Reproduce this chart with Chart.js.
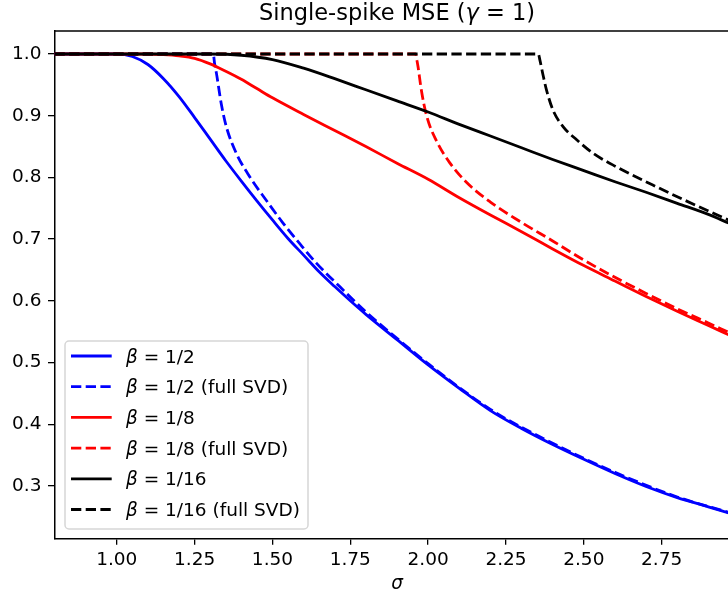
<!DOCTYPE html>
<html>
<head>
<meta charset="utf-8">
<script src="https://cdn.jsdelivr.net/npm/chart.js@4.4.0/dist/chart.umd.min.js"></script>
<style>
  html, body { margin: 0; padding: 0; background: #fff; overflow: hidden; }
  #wrap { width: 728px; height: 601px; overflow: hidden; position: relative; }
  canvas { display: block; }
</style>
</head>
<body>
<div id="wrap"><canvas id="mse" width="742" height="601"></canvas></div>
<script>
// values
const sigmaHalf = [0.8, 1.0, 1.05, 1.1, 1.15, 1.2, 1.25, 1.3, 1.35, 1.4, 1.45, 1.5, 1.55, 1.6, 1.65, 1.7, 1.75, 1.8, 1.9, 2.0, 2.1, 2.2, 2.3, 2.4, 2.5, 2.6, 2.7, 2.8, 2.9, 2.965];
const mseHalf = [1.0, 1.0, 0.996, 0.983, 0.960, 0.931, 0.897, 0.862, 0.827, 0.794, 0.762, 0.731, 0.701, 0.674, 0.647, 0.623, 0.600, 0.578, 0.537, 0.496, 0.458, 0.422, 0.393, 0.367, 0.343, 0.320, 0.299, 0.281, 0.266, 0.256];

const sigmaHalfSvd = [0.8, 1.31, 1.314, 1.32, 1.336, 1.352, 1.384, 1.427, 1.48, 1.534, 1.587, 1.641, 1.716, 1.8, 1.9, 2.0, 2.2, 2.4, 2.6, 2.8, 2.965];
const mseHalfSvd = [1.0, 1.0, 0.985, 0.969, 0.918, 0.882, 0.839, 0.801, 0.763, 0.726, 0.693, 0.661, 0.623, 0.582, 0.539, 0.498, 0.424, 0.369, 0.322, 0.282, 0.257];

const sigmaEighth = [0.8, 1.1, 1.15, 1.2, 1.25, 1.3, 1.35, 1.4, 1.45, 1.5, 1.6, 1.7, 1.8, 1.9, 2.0, 2.1, 2.2, 2.3, 2.4, 2.5, 2.6, 2.7, 2.8, 2.9, 2.965];
const mseEighth = [1.0, 1.0, 0.999, 0.997, 0.993, 0.984, 0.972, 0.959, 0.944, 0.929, 0.902, 0.876, 0.850, 0.823, 0.797, 0.767, 0.739, 0.712, 0.684, 0.657, 0.632, 0.607, 0.583, 0.560, 0.545];

const sigmaEighthSvd = [0.8, 1.96, 1.964, 1.968, 1.978, 1.995, 2.027, 2.069, 2.123, 2.2, 2.3, 2.4, 2.5, 2.6, 2.7, 2.8, 2.9, 2.965];
const mseEighthSvd = [1.0, 1.0, 0.990, 0.978, 0.942, 0.900, 0.859, 0.824, 0.792, 0.760, 0.727, 0.697, 0.666, 0.638, 0.612, 0.587, 0.564, 0.549];

const sigmaSixteenth = [0.8, 1.3, 1.4, 1.5, 1.6, 1.7, 1.8, 1.9, 2.0, 2.1, 2.2, 2.3, 2.4, 2.5, 2.6, 2.7, 2.8, 2.9, 2.965];
const mseSixteenth = [1.0, 1.0, 0.998, 0.991, 0.977, 0.960, 0.942, 0.924, 0.906, 0.886, 0.867, 0.848, 0.829, 0.811, 0.793, 0.776, 0.758, 0.740, 0.726];

const sigmaSixteenthSvd = [0.8, 2.354, 2.359, 2.369, 2.38, 2.401, 2.434, 2.477, 2.53, 2.605, 2.72, 2.82, 2.965];
const mseSixteenthSvd = [1.0, 1.0, 0.990, 0.966, 0.942, 0.909, 0.882, 0.861, 0.839, 0.817, 0.788, 0.764, 0.731];

const xTicks = [1.0, 1.25, 1.5, 1.75, 2.0, 2.25, 2.5, 2.75];
const yTicks = [0.3, 0.4, 0.5, 0.6, 0.7, 0.8, 0.9, 1.0];

const FONT = '"DejaVu Sans", sans-serif';
const LW = 2.8;
const DASH = [10.3, 4.4];

const series = [
    { label: '1/2', full: false, color: '#0000ff', xs: sigmaHalf, ys: mseHalf },
    { label: '1/2', full: true, color: '#0000ff', xs: sigmaHalfSvd, ys: mseHalfSvd },
    { label: '1/8', full: false, color: '#ff0000', xs: sigmaEighth, ys: mseEighth },
    { label: '1/8', full: true, color: '#ff0000', xs: sigmaEighthSvd, ys: mseEighthSvd },
    { label: '1/16', full: false, color: '#000000', xs: sigmaSixteenth, ys: mseSixteenth },
    { label: '1/16', full: true, color: '#000000', xs: sigmaSixteenthSvd, ys: mseSixteenthSvd }
];

// text with italic math symbols, parts = [[text, italic], ...]
function drawRich(ctx, parts, x, y, size, align) {
    const fonts = parts.map(p => (p[1] ? 'italic ' : '') + size + 'px ' + FONT);
    const widths = parts.map((p, i) => { ctx.font = fonts[i]; return ctx.measureText(p[0]).width; });
    const total = widths.reduce((a, b) => a + b, 0);
    let cx = align === 'center' ? x - total / 2 : x;
    ctx.textAlign = 'left';
    ctx.textBaseline = 'alphabetic';
    parts.forEach((p, i) => { ctx.font = fonts[i]; ctx.fillText(p[0], cx, y); cx += widths[i]; });
}

const overlay = {
    id: 'overlay',
    afterDraw(chart) {
        const { ctx, chartArea: a } = chart;
        const cx = (a.left + a.right) / 2;
        ctx.save();
        ctx.fillStyle = '#000';

        // top spine
        ctx.strokeStyle = '#000';
        ctx.lineWidth = 1.5;
        ctx.beginPath();
        ctx.moveTo(a.left, a.top);
        ctx.lineTo(a.right + 1, a.top);
        ctx.stroke();

        // title and x label
        drawRich(ctx, [['Single-spike MSE (', false], ['\u03b3', true], [' = 1)', false]], cx, 20, 22.5, 'center');
        drawRich(ctx, [['\u03c3', true]], cx, 589, 18.5, 'center');

        // legend box
        const bx = 65, by = 341, bw = 243, bh = 188, r = 4;
        ctx.beginPath();
        ctx.roundRect(bx, by, bw, bh, r);
        ctx.fillStyle = 'rgba(255,255,255,0.8)';
        ctx.fill();
        ctx.strokeStyle = '#d6d6d6';
        ctx.lineWidth = 1.5;
        ctx.stroke();

        series.forEach((s, i) => {
            const ly = 356 + i * 30.7;
            ctx.beginPath();
            ctx.setLineDash(s.full ? DASH : []);
            ctx.strokeStyle = s.color;
            ctx.lineWidth = LW;
            ctx.moveTo(71, ly);
            ctx.lineTo(111.7, ly);
            ctx.stroke();
            ctx.setLineDash([]);
            ctx.fillStyle = '#000';
            const parts = [['\u03b2', true], [' = ' + s.label, false]];
            if (s.full) parts.push([' (full SVD)', false]);
            drawRich(ctx, parts, 126, ly + 6.5, 18.5, 'left');
        });
        ctx.restore();
    }
};

new Chart(document.getElementById('mse').getContext('2d'), {
    type: 'line',
    data: {
        datasets: series.map((s, i) => ({
            label: s.label,
            data: s.xs.map((x, k) => ({ x: x, y: s.ys[k] })),
            borderColor: s.color,
            borderWidth: LW,
            borderDash: s.full ? DASH : [],
            borderCapStyle: 'butt',
            borderJoinStyle: 'round',
            pointRadius: 0,
            fill: false,
            cubicInterpolationMode: 'monotone',
            order: series.length - 1 - i
        }))
    },
    options: {
        responsive: false,
        animation: false,
        events: [],
        layout: { padding: { top: 31, right: 2.5, bottom: 0, left: 0 } },
        plugins: {
            legend: { display: false },
            title: { display: false },
            tooltip: { enabled: false }
        },
        scales: {
            x: {
                type: 'linear',
                min: 0.8,
                max: 3.0,
                afterFit: s => { s.height = 62.7; },
                afterBuildTicks: s => { s.ticks = xTicks.map(v => ({ value: v })); },
                grid: { drawOnChartArea: false, drawTicks: true, tickLength: 6.5, color: '#000', lineWidth: 1.3 },
                border: { display: true, color: '#000', width: 1.5 },
                ticks: {
                    color: '#000',
                    padding: 4,
                    maxRotation: 0,
                    font: { family: FONT, size: 18.5 },
                    callback: v => v.toFixed(2)
                }
            },
            y: {
                type: 'linear',
                min: 0.215,
                max: 1.0373,
                afterFit: s => { s.width = 54.5; },
                afterBuildTicks: s => { s.ticks = yTicks.map(v => ({ value: v })); },
                grid: { drawOnChartArea: false, drawTicks: true, tickLength: 6.5, color: '#000', lineWidth: 1.3 },
                border: { display: true, color: '#000', width: 1.5 },
                ticks: {
                    color: '#000',
                    padding: 6.5,
                    font: { family: FONT, size: 18.5 },
                    callback: v => v.toFixed(1)
                }
            }
        }
    },
    plugins: [overlay]
});
</script>
</body>
</html>
